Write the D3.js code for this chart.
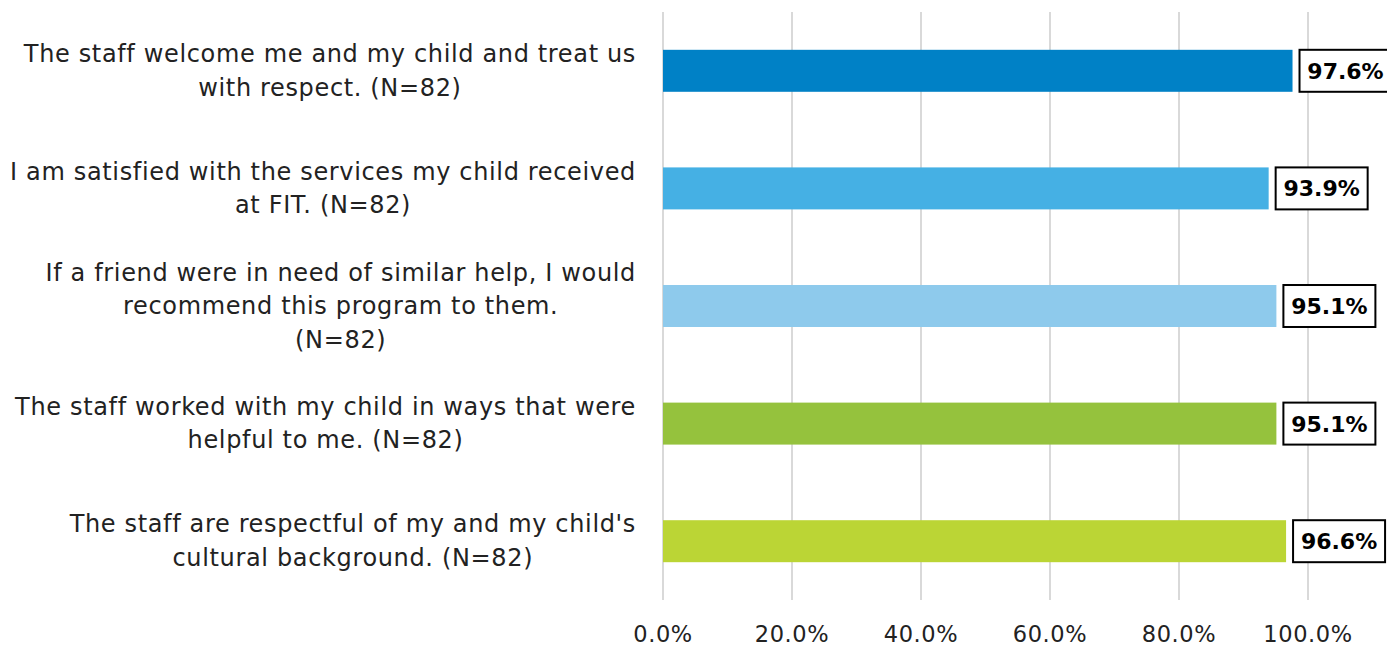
<!DOCTYPE html>
<html><head><meta charset="utf-8">
<script src="https://cdn.jsdelivr.net/npm/d3@7"></script>
<style>html,body{margin:0;padding:0;background:#fff;}svg{display:block;}</style>
</head><body>
<svg id="chart" width="1387" height="646"></svg>
<script>
const categories = [
  ["The staff welcome me and my child and treat us", "with respect. (N=82)"],
  ["I am satisfied with the services my child received", "at FIT. (N=82)"],
  ["If a friend were in need of similar help, I would", "recommend this program to them.", "(N=82)"],
  ["The staff worked with my child in ways that were", "helpful to me. (N=82)"],
  ["The staff are respectful of my and my child's", "cultural background. (N=82)"]
];
const values = [0.976, 0.939, 0.951, 0.951, 0.966];
const colors = ["#0081C6", "#45B0E4", "#8ECAEC", "#95C23D", "#BBD535"];
const ticks = [0, 0.2, 0.4, 0.6, 0.8, 1.0];
const tickLabels = ["0.0%", "20.0%", "40.0%", "60.0%", "80.0%", "100.0%"];

const svg = d3.select("#chart");
const font = "'DejaVu Sans', sans-serif";
const x = d3.scaleLinear().domain([0, 1]).range([663, 1308]);
const y = d3.scaleBand().domain(d3.range(categories.length)).range([12, 600])
  .paddingInner(0.643).paddingOuter(0.3215);

// gridlines
svg.append("g").selectAll("line").data(ticks).join("line")
  .attr("x1", d => x(d)).attr("x2", d => x(d))
  .attr("y1", 12).attr("y2", 600)
  .attr("stroke", "#D9D9D9").attr("stroke-width", 2);

// tick labels
svg.append("g").selectAll("text").data(ticks).join("text")
  .attr("x", d => x(d)).attr("y", 642)
  .attr("text-anchor", "middle")
  .attr("font-family", font).attr("font-size", 22.5).attr("letter-spacing", 0.6).attr("fill", "#222")
  .text((d, i) => tickLabels[i]);

// bars
svg.append("g").selectAll("rect").data(values).join("rect")
  .attr("x", x(0)).attr("y", (d, i) => y(i))
  .attr("width", d => x(d) - x(0)).attr("height", y.bandwidth())
  .attr("fill", (d, i) => colors[i]);

// data labels with boxes
const lab = svg.append("g").selectAll("g").data(values).join("g");
lab.append("rect")
  .attr("x", d => x(d) + 7).attr("y", (d, i) => y(i))
  .attr("width", 92).attr("height", y.bandwidth())
  .attr("fill", "#fff").attr("stroke", "#000").attr("stroke-width", 2);
lab.append("text")
  .attr("x", d => x(d) + 53).attr("y", (d, i) => y(i) + y.bandwidth() / 2 + 8)
  .attr("text-anchor", "middle")
  .attr("font-family", font).attr("font-weight", "bold").attr("font-size", 22).attr("fill", "#000")
  .text(d => d3.format(".1%")(d));

// category labels
const lineH = 33.5;
const rightEdge = 636;
categories.forEach((lines, i) => {
  const g = svg.append("g");
  const cy = y(i) + y.bandwidth() / 2;
  const t = g.append("text")
    .attr("font-family", font).attr("font-size", 24).attr("letter-spacing", 0.65).attr("fill", "#222")
    .attr("text-anchor", "middle");
  const spans = lines.map((l, k) => t.append("tspan")
    .attr("y", cy + (k - (lines.length - 1) / 2) * lineH + 8)
    .text(l));
  let maxW = 0;
  spans.forEach(s => { maxW = Math.max(maxW, s.node().getComputedTextLength()); });
  const cx = rightEdge - maxW / 2;
  spans.forEach(s => s.attr("x", cx));
});
</script>
</body></html>
